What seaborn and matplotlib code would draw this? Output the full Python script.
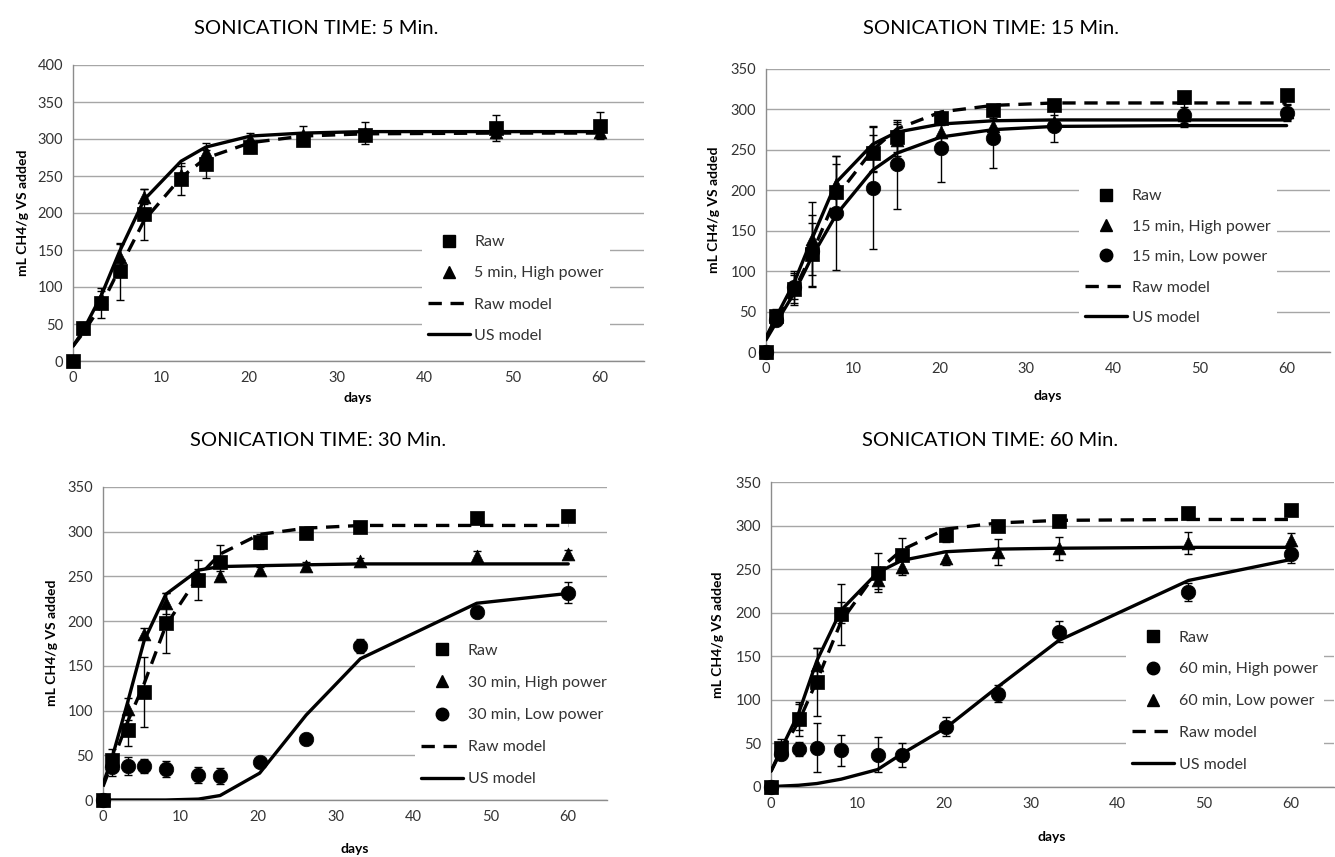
import numpy as np
import pandas as pd
import matplotlib
matplotlib.use("Agg")
import matplotlib.pyplot as plt
from matplotlib.lines import Line2D
import seaborn as sns

sns.set_style("white")
plt.rcParams['font.family'] = ['Lato', 'DejaVu Sans']

# ---------------- data ----------------
days = [0, 1.1, 3.2, 5.3, 8.1, 12.3, 15.1, 20.2, 26.2, 33.2, 48.2, 60]
raw = [0, 45, 78, 121, 198, 246, 266, 289, 299, 305, 315, 318]

# Panel 1: 5 min
p1_raw_err = [0, 8, 20, 39, 34, 22, 19, 8, 5, 5, 18, 18]
p1_high = [0, 45, 85, 140, 222, 252, 283, 300, 305, 308, 309, 310]
p1_high_err = [0, 5, 10, 18, 10, 12, 12, 8, 13, 15, 8, 8]
p1_raw_model = [20, 37, 75, 125, 190, 248, 274, 295, 304, 307, 308, 308]
p1_us_model = [20, 40, 88, 148, 218, 270, 289, 304, 308, 310, 310, 310]

# Panel 2: 15 min
p2_raw_err = [0, 8, 20, 39, 34, 22, 19, 8, 5, 5, 5, 5]
p2_high = [0, 45, 80, 140, 208, 250, 262, 272, 280, 285, 293, 297]
p2_high_err = [0, 5, 20, 45, 35, 28, 20, 15, 10, 8, 10, 10]
p2_low = [0, 40, 80, 125, 172, 203, 232, 252, 265, 280, 293, 296]
p2_low_err = [0, 5, 15, 45, 70, 76, 55, 42, 37, 20, 15, 10]
p2_raw_model = [18, 40, 75, 122, 192, 250, 276, 297, 305, 308, 308, 308]
p2_us_high_model = [18, 42, 85, 140, 210, 257, 272, 282, 286, 287, 287, 287]
p2_us_low_model = [15, 35, 72, 118, 170, 225, 246, 266, 275, 279, 280, 280]

# Panel 3: 30 min
p3_raw_err = [0, 12, 18, 39, 34, 22, 19, 8, 5, 4, 4, 4]
p3_high = [0, 40, 102, 186, 220, 250, 251, 257, 262, 267, 273, 275]
p3_high_err = [0, 5, 12, 6, 12, 8, 5, 4, 4, 4, 5, 5]
p3_low = [0, 37, 38, 38, 35, 28, 27, 42, 68, 172, 210, 232]
p3_low_err = [0, 10, 10, 8, 9, 9, 9, 4, 4, 8, 5, 12]
p3_raw_model = [15, 40, 88, 130, 195, 250, 275, 297, 304, 307, 307, 307]
p3_us_high_model = [18, 45, 110, 178, 230, 257, 261, 262, 263, 264, 264, 264]
p3_us_low_model = [0, 0, 0, 0, 0, 1, 5, 30, 95, 158, 220, 231]

# Panel 4: 60 min
p4_raw_err = [0, 10, 20, 39, 35, 22, 20, 8, 5, 4, 4, 4]
p4_high = [0, 38, 44, 45, 42, 37, 37, 69, 107, 178, 224, 267]
p4_high_err = [0, 5, 8, 28, 18, 20, 14, 11, 10, 12, 10, 10]
p4_low = [0, 42, 80, 140, 200, 237, 253, 263, 270, 274, 280, 283]
p4_low_err = [0, 8, 15, 20, 12, 10, 10, 8, 15, 13, 13, 9]
p4_raw_model = [18, 40, 75, 122, 190, 248, 272, 296, 303, 306, 307, 307]
p4_us_high_model = [0, 1, 2, 4, 9, 20, 38, 68, 115, 168, 237, 261]
p4_us_low_model = [18, 42, 85, 145, 203, 246, 260, 270, 273, 274, 275, 275]

titles = ["SONICATION TIME: 5 Min.", "SONICATION TIME: 15 Min.",
          "SONICATION TIME: 30 Min.", "SONICATION TIME: 60 Min."]
ylabel = "mL CH4/g VS added"
xlabel = "days"

# ---------------- figure ----------------
W, H = 1335, 857
fig = plt.figure(figsize=(W / 100, H / 100), dpi=100)

def fx(px):
    return px / W

def fy(py):
    return 1 - py / H

def make_ax(l, r, t, b):
    return fig.add_axes([fx(l), fy(b), fx(r) - fx(l), fy(t) - fy(b)])

GRID = "#a6a6a6"
SPINE = "#8c8c8c"
TXT = "#333333"
LW = 2.4
DASH = (0, (4, 2.6))

MARK = {"s": 100, "^": 85, "o": 110}

def style_ax(ax, ymax):
    ax.set_xlim(0, 65)
    ax.set_ylim(0, ymax)
    ax.set_xticks(range(0, 61, 10))
    ax.set_yticks(range(0, ymax + 1, 50))
    ax.yaxis.grid(True, color=GRID, lw=1)
    ax.xaxis.grid(False)
    ax.set_axisbelow(True)
    for s in ["top", "right"]:
        ax.spines[s].set_visible(False)
    for s in ["left", "bottom"]:
        ax.spines[s].set_color(SPINE)
        ax.spines[s].set_linewidth(1)
    ax.tick_params(axis="both", which="major", labelsize=10.5, labelcolor=TXT,
                   length=4, width=1, direction="out", pad=3, color=SPINE)
    ax.set_xlabel("")
    ax.set_ylabel("")

def draw_points(ax, vals, errs, marker):
    ax.errorbar(days, vals, yerr=errs, fmt="none", ecolor="black",
                elinewidth=1, capsize=3, capthick=1, zorder=4, clip_on=False)
    sns.scatterplot(x=days, y=vals, marker=marker, color="black",
                    s=MARK[marker], edgecolor="black", linewidth=0.5,
                    ax=ax, zorder=5, clip_on=False, legend=False)

def draw_model(ax, vals, dashed):
    kw = dict(linestyle=DASH) if dashed else {}
    sns.lineplot(x=days, y=vals, color="black", lw=LW, ax=ax,
                 estimator=None, sort=False, zorder=3, legend=False, **kw)

def mk_handle(marker):
    return Line2D([], [], marker=marker, color="black", linestyle="none",
                  markersize=9 if marker != "^" else 8.5)

def line_handle(dashed):
    if dashed:
        return Line2D([], [], color="black", lw=LW, linestyle=DASH)
    return Line2D([], [], color="black", lw=LW)

def add_legend(ax, handles, labels, cx, cy, spacing=1.05):
    leg = ax.legend(handles, labels, loc="center",
                    bbox_to_anchor=(fx(cx), fy(cy)), bbox_transform=fig.transFigure,
                    frameon=True, facecolor="white", edgecolor="none", framealpha=1,
                    fontsize=11.5, labelspacing=spacing, handlelength=2.6,
                    handletextpad=0.3, borderpad=0.4, fancybox=False)
    for t in leg.get_texts():
        t.set_color(TXT)
    leg.set_zorder(10)

# ---- Panel 1 ----
ax1 = make_ax(73, 644, 65, 361)
draw_model(ax1, p1_raw_model, True)
draw_model(ax1, p1_us_model, False)
draw_points(ax1, raw, p1_raw_err, "s")
draw_points(ax1, p1_high, p1_high_err, "^")
style_ax(ax1, 400)
add_legend(ax1, [mk_handle("s"), mk_handle("^"), line_handle(True), line_handle(False)],
           ["Raw", "5 min, High power", "Raw model", "US model"], 516, 289, 1.07)

# ---- Panel 2 ----
ax2 = make_ax(766, 1330, 69, 352)
draw_model(ax2, p2_raw_model, True)
draw_model(ax2, p2_us_high_model, False)
draw_model(ax2, p2_us_low_model, False)
draw_points(ax2, raw, p2_raw_err, "s")
draw_points(ax2, p2_high, p2_high_err, "^")
draw_points(ax2, p2_low, p2_low_err, "o")
style_ax(ax2, 350)
add_legend(ax2, [mk_handle("s"), mk_handle("^"), mk_handle("o"), line_handle(True), line_handle(False)],
           ["Raw", "15 min, High power", "15 min, Low power", "Raw model", "US model"], 1178, 257, 1.02)

# ---- Panel 3 ----
ax3 = make_ax(103, 607, 487, 800)
draw_model(ax3, p3_raw_model, True)
draw_model(ax3, p3_us_high_model, False)
draw_model(ax3, p3_us_low_model, False)
draw_points(ax3, raw, p3_raw_err, "s")
draw_points(ax3, p3_high, p3_high_err, "^")
draw_points(ax3, p3_low, p3_low_err, "o")
style_ax(ax3, 350)
add_legend(ax3, [mk_handle("s"), mk_handle("^"), mk_handle("o"), line_handle(True), line_handle(False)],
           ["Raw", "30 min, High power", "30 min, Low power", "Raw model", "US model"], 514, 715, 1.12)

# ---- Panel 4 ----
ax4 = make_ax(771, 1334, 482, 787)
draw_model(ax4, p4_raw_model, True)
draw_model(ax4, p4_us_low_model, False)
draw_model(ax4, p4_us_high_model, False)
draw_points(ax4, raw, p4_raw_err, "s")
draw_points(ax4, p4_low, p4_low_err, "^")
draw_points(ax4, p4_high, p4_high_err, "o")
style_ax(ax4, 350)
add_legend(ax4, [mk_handle("s"), mk_handle("o"), mk_handle("^"), line_handle(True), line_handle(False)],
           ["Raw", "60 min, High power", "60 min, Low power", "Raw model", "US model"], 1225, 701, 1.1)

# ---- titles & labels ----
for txt, (x, y) in zip(titles, [(316, 28), (991, 28), (318, 441), (990, 441)]):
    fig.text(fx(x), fy(y), txt, ha="center", va="center", fontsize=14.5, color="black")

for (x, y) in [(358, 398), (1048, 396), (355, 849), (1052, 837)]:
    fig.text(fx(x), fy(y), xlabel, ha="center", va="center", fontsize=10,
             fontweight="bold", color="black")

for (x, y) in [(23, 213), (714, 210), (52, 643), (718, 635)]:
    fig.text(fx(x), fy(y), ylabel, ha="center", va="center", fontsize=10,
             fontweight="bold", color="black", rotation=90)

fig.savefig("out.png", dpi=100, facecolor="white")
